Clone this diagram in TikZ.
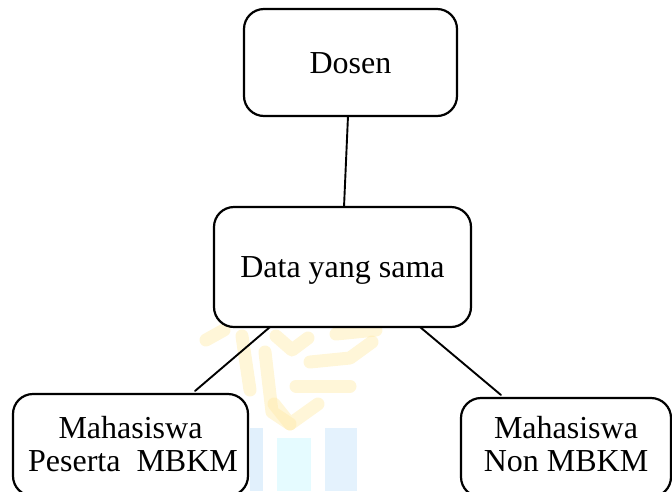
\documentclass[tikz,border=0pt]{standalone}
\usepackage{fontspec}
\setmainfont{Liberation Serif}
\usetikzlibrary{calc}
\definecolor{wmyellow}{RGB}{255,234,168}
\definecolor{wmblue}{RGB}{196,226,250}
\definecolor{wmcyan}{RGB}{212,248,255}
\begin{document}
\begin{tikzpicture}[x=1pt,y=-1pt,
  box/.style={draw=black,line width=2.2pt,rounded corners=20pt,fill=white,
    inner sep=0pt,outer sep=0pt},
  lbl/.style={anchor=base,inner sep=0pt,font=\fontsize{32}{33}\selectfont},
  link/.style={line width=1.9pt,line cap=round},
  wmline/.style={wmyellow,line width=13pt,line join=round,line cap=round,opacity=0.45}]
\useasboundingbox (0,0) rectangle (672,491);
\clip (0,0) rectangle (672,491);

% faint logo watermark behind the lower part of the chart
\draw[wmline] (206,340) -- (224,330);
\draw[wmline] (242,336) -- (250,390);
\draw[wmline] (265,352) -- (272,412) -- (290,424);
\draw[wmline] (276,336) -- (292,350) -- (308,338);
\draw[wmline] (296,386) -- (350,386);
\draw[wmline] (310,362) -- (350,358) -- (372,342);
\draw[wmline] (336,334) -- (376,330);
\draw[wmline] (274,404) -- (290,424) -- (318,404);
\fill[wmblue,opacity=0.5] (250,428) rectangle (263,491);
\fill[wmcyan,opacity=0.6] (277,438) rectangle (311,491);
\fill[wmblue,opacity=0.45] (325,428) rectangle (357,491);

% boxes
\node[box,minimum width=213pt,minimum height=107pt] (dosen) at (350.5,62.5) {};
\node[box,minimum width=257pt,minimum height=120pt] (data) at (342.5,267) {};
\node[box,minimum width=235pt,minimum height=102pt] (peserta) at (130.5,445) {};
\node[box,minimum width=210pt,minimum height=99pt] (nonmbkm) at (566,447.5) {};

% labels
\node[lbl] (tDosen) at (350.5,73) {Dosen};
\node[lbl] (tData) at (342.5,277) {Data yang sama};
\node[lbl] (tMhsA) at (130.5,438) {Mahasiswa};
\node[lbl] (tPeserta) at (133,471) {Peserta~~MBKM};
\node[lbl] (tMhsB) at (566,438) {Mahasiswa};
\node[lbl] (tNon) at (566,471) {Non MBKM};

% connectors
\draw[link] ($(dosen.south)+(-2.5,0)$) -- ($(data.north)+(1.5,0)$);
\draw[link] ($(data.south)+(-72.5,0)$) -- ($(peserta.north)+(64.5,-3)$);
\draw[link] ($(data.south)+(77.5,0)$) -- ($(nonmbkm.north)+(-65,-3)$);
\end{tikzpicture}
\end{document}
